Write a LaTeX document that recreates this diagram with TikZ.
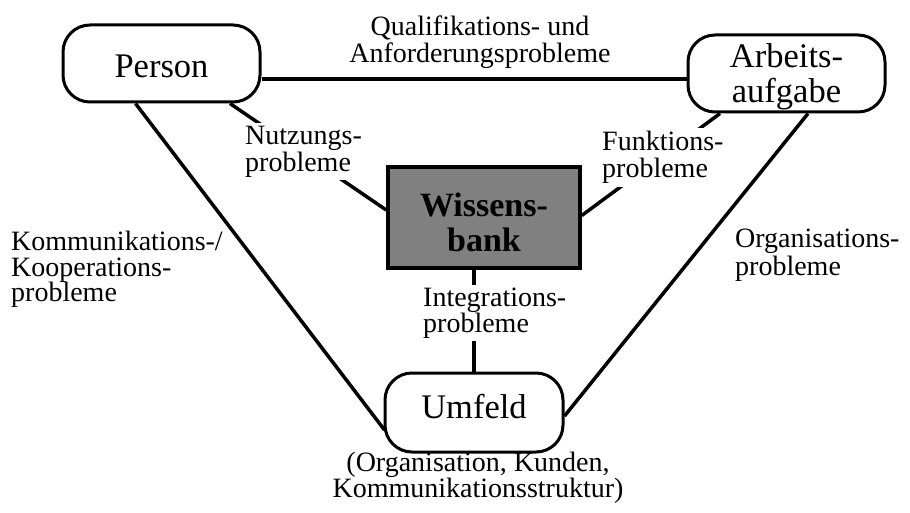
\documentclass[tikz,border=0pt]{standalone}
\usepackage{fontspec}
\setmainfont{Liberation Serif}
\usetikzlibrary{calc}
\definecolor{kbgray}{gray}{0.5}
\begin{document}
\begin{tikzpicture}[x=1pt,y=-1pt,
  box/.style={draw=black, line width=3pt, rounded corners=27pt, fill=white,
    minimum width=197pt, minimum height=77pt, align=center, inner sep=0pt,
    font=\fontsize{34.5}{35}\selectfont},
  wbox/.style={draw=black, line width=3.5pt, fill=kbgray,
    minimum width=192pt, minimum height=101pt, align=center, inner sep=0pt,
    font=\bfseries\fontsize{34}{35}\selectfont},
  conn/.style={line width=3.5pt},
  lbl/.style={align=left, inner sep=3pt, font=\fontsize{28}{27}\selectfont},
  onl/.style={lbl, fill=white},
]
\useasboundingbox (0,0) rectangle (910,513);
\fill[white] (0,0) rectangle (910,513);

% main boxes
\node[box] (person) at (161.5,63.5) {\rule{0pt}{29pt}Person};
\node[box] (arbeit) at (786.5,73.5) {\rule{0pt}{29.5pt}Arbeits-\\aufgabe};
\node[box, minimum width=178pt, minimum height=79pt] (umfeld) at (474,412.5)
  {Umfeld\rule[-12pt]{0pt}{12pt}};
\node[wbox] (wissen) at (484,217.5) {\rule{0pt}{34pt}Wissens-\\bank};

% connectors
\coordinate (hl) at (0,79);
\draw[conn] (person.east |- hl) -- (arbeit.west |- hl);
\draw[conn] ($(person.south)+(-26,0)$) -- ($(umfeld.west)+(1,17.5)$);
\draw[conn] ($(arbeit.south)+(21.5,0)$) -- ($(umfeld.east)+(0,3.5)$);
\draw[conn] ($(person.south)+(68.5,0)$) -- ($(wissen.west)+(0,-7.5)$);
\draw[conn] ($(arbeit.south)+(-66.5,0)$) -- ($(wissen.east)+(0,-2)$);
\draw[conn] (wissen.south -| umfeld.north) -- (umfeld.north);

% labels
\node[lbl, align=center, anchor=north] (quali) at (480,13)
  {Qualifikations- und\\Anforderungsprobleme};
\node[onl, anchor=north west] (nutz) at (242,123) {Nutzungs-\\probleme};
\node[onl, anchor=north west] (funk) at (599,128) {Funktions-\\probleme};
\node[onl, anchor=north west, font=\fontsize{28}{25.5}\selectfont] (integ) at (420,285)
  {Integrations-\\probleme};
\node[lbl, anchor=north west, font=\fontsize{28}{25.5}\selectfont] (komm) at (8,228)
  {Kommunikations-/\\Kooperations-\\probleme};
\node[lbl, anchor=north west, font=\fontsize{28}{28}\selectfont] (orga) at (732,226)
  {Organisations-\\probleme};
\node[lbl, align=center, anchor=north, font=\fontsize{28}{25.5}\selectfont] (umsub) at (478,449)
  {(Organisation, Kunden,\\Kommunikationsstruktur)};
\end{tikzpicture}
\end{document}
